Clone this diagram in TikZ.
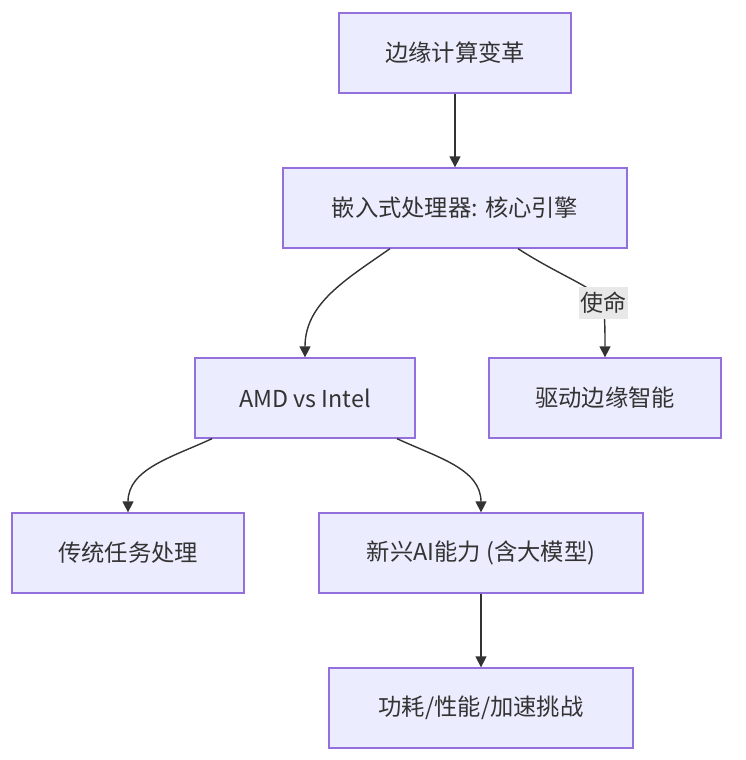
\documentclass[tikz,border=0pt]{standalone}
\usepackage{fontspec}
\setmainfont{Noto Sans CJK SC}
\usepackage{tikz}
\usetikzlibrary{arrows.meta,positioning}
\definecolor{boxfill}{HTML}{ECECFF}
\definecolor{boxline}{HTML}{9370DB}
\definecolor{edgeline}{HTML}{333333}
\definecolor{labelbg}{HTML}{E8E8E8}

\begin{document}
\begin{tikzpicture}[
		->,
		>={Triangle[length=11pt,width=11pt]},
		x=1pt, y=1pt,
		box/.style={draw=boxline, fill=boxfill, line width=1.3pt, text=edgeline,
			minimum height=80pt, inner sep=0pt,
			font=\fontsize{23.3}{27}\selectfont},
		every edge/.style={draw=edgeline, line width=1.4pt},
		lbl/.style={fill=labelbg, text=edgeline, inner xsep=1.5pt, inner ysep=5pt,
			font=\fontsize{23}{27}\selectfont}
	]
	\useasboundingbox (0,0) rectangle (746,-760);

	\node[box, minimum width=232pt] (1) at (455,-53)	{边缘计算变革};
	\node[box, minimum width=344pt] (2) at (455,-208)	{嵌入式处理器: 核心引擎};
	\node[box, minimum width=220pt] (3) at (305,-398)	{AMD vs Intel};
	\node[box, minimum width=232pt] (4) at (605,-398)	{驱动边缘智能};
	\node[box, minimum width=232pt] (5) at (128,-553)	{传统任务处理};
	\node[box, minimum width=324pt] (6) at (481,-553)	{新兴AI能力 (含大模型)};
	\node[box, minimum width=304pt] (7) at (481,-708)	{功耗/性能/加速挑战};

	\path	(1)	edge								(2)
		([xshift=-65pt]2.south)	edge [out=-145, in=90]					(3.north)
		([xshift=-93pt]3.south)	edge [out=-155, in=90]					(5.north)
		([xshift=92pt]3.south)	edge [out=-25, in=90]					(6.north)
		(6)	edge								(7);

	% the mission edge bends under its label
	\draw[draw=edgeline, line width=1.4pt]
		([xshift=63pt]2.south) .. controls (560,-276) and (601,-290) .. (603,-303)
			node[lbl] {使命}
		.. controls (605,-318) and (605,-330) .. (4.north);

\end{tikzpicture}
\end{document}
